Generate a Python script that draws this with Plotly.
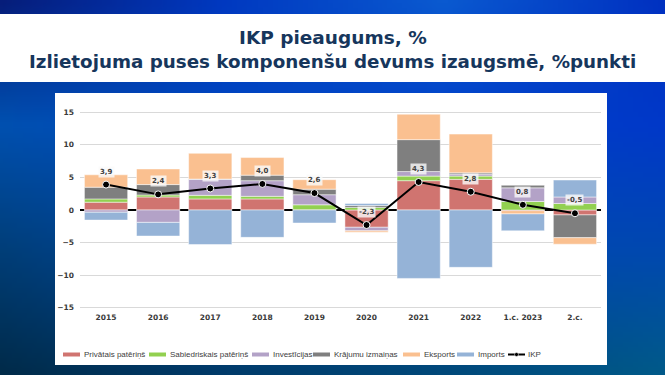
import base64, struct, zlib
import plotly.graph_objects as go

# ---------------- data ----------------
categories = ["2015", "2016", "2017", "2018", "2019", "2020", "2021", "2022", "1.c. 2023", "2.c."]
privatais = [1.2, 2.0, 1.7, 1.7, 0.05, -2.65, 4.5, 4.7, -0.1, -0.75]
sabiedriskais = [0.5, 0.3, 0.55, 0.4, 0.75, 0.4, 0.7, 0.5, 1.3, 1.0]
investicijas = [-0.35, -1.9, 2.45, 2.4, 1.55, -0.55, 0.7, 0.3, 2.1, 1.0]
krajumi = [1.8, 1.6, 0.05, 0.85, 0.85, 0.3, 4.9, 0.2, 0.4, -3.5]
eksports = [1.9, 2.4, 3.95, 2.7, 1.45, -0.2, 3.9, 5.95, -0.5, -1.0]
imports = [-1.2, -2.1, -5.3, -4.2, -2.0, 0.3, -10.5, -8.8, -2.6, 2.6]
ikp = [3.9, 2.4, 3.3, 4.0, 2.6, -2.3, 4.3, 2.8, 0.8, -0.5]
ikp_labels = ["3,9", "2,4", "3,3", "4,0", "2,6", "-2,3", "4,3", "2,8", "0,8", "-0,5"]

series_names = ["Privātais patēriņš", "Sabiedriskais patēriņš", "Investīcijas",
                "Krājumu izmaiņas", "Eksports", "Imports"]
series_values = [privatais, sabiedriskais, investicijas, krajumi, eksports, imports]
series_colors = ["#d07470", "#92d050", "#b3a2c7", "#7f7f7f", "#fac090", "#95b3d7"]
y_ticks = [-15, -10, -5, 0, 5, 10, 15]

title_line1 = "IKP pieaugums, %"
title_line2 = "Izlietojuma puses komponenšu devums izaugsmē, %punkti"

xpos = list(range(len(categories)))

# ---------------- geometry helpers ----------------
W, H = 665, 375
L, R, T, B = 80, 601, 109, 311
PW, PH = R - L, B - T


def px2x(x):
    return (x - L) / PW


def px2y(y):
    return (B - y) / PH


# ---------------- gradient background image ----------------
GRID = [
    ["#061c78", "#0038c0", "#0a5ad0", "#0030c0"],
    ["#0050b0", "#0048c0", "#0040c8", "#0038c8"],
    ["#003e78", "#0045a0", "#0048b0", "#0048b0"],
    ["#002a48", "#003a68", "#004878", "#005a88"],
]


def h2rgb(h):
    h = h.lstrip("#")
    return [int(h[i:i + 2], 16) for i in (0, 2, 4)]


GRIDRGB = [[h2rgb(c) for c in row] for row in GRID]


def sample(fx, fy):
    gx, gy = fx * 3, fy * 3
    i, j = min(int(gx), 2), min(int(gy), 2)
    tx, ty = gx - i, gy - j
    out = []
    for k in range(3):
        a = GRIDRGB[j][i][k] * (1 - tx) + GRIDRGB[j][i + 1][k] * tx
        b = GRIDRGB[j + 1][i][k] * (1 - tx) + GRIDRGB[j + 1][i + 1][k] * tx
        out.append(int(round(a * (1 - ty) + b * ty)))
    return out


def make_png(w, h):
    raw = bytearray()
    for y in range(h):
        raw.append(0)
        for x in range(w):
            raw.extend(sample((x + 0.5) / w, (y + 0.5) / h))

    def chunk(tag, data):
        c = struct.pack(">I", len(data)) + tag + data
        return c + struct.pack(">I", zlib.crc32(tag + data) & 0xFFFFFFFF)

    png = b"\x89PNG\r\n\x1a\n"
    png += chunk(b"IHDR", struct.pack(">IIBBBBB", w, h, 8, 2, 0, 0, 0))
    png += chunk(b"IDAT", zlib.compress(bytes(raw), 9))
    png += chunk(b"IEND", b"")
    return "data:image/png;base64," + base64.b64encode(png).decode()


bg_uri = make_png(133, 75)

# ---------------- figure ----------------
fig = go.Figure()

for name, vals, col in zip(series_names, series_values, series_colors):
    fig.add_trace(go.Bar(
        x=xpos, y=vals, name=name,
        marker=dict(color=col, line=dict(color="rgba(255,255,255,0.8)", width=0.6)),
        showlegend=False,
    ))

fig.add_trace(go.Scatter(
    x=xpos, y=ikp, name="IKP", mode="lines+markers",
    line=dict(color="black", width=2),
    marker=dict(color="black", size=7, line=dict(color="white", width=1)),
    showlegend=False,
))

annotations = []
for xi, v, t in zip(xpos, ikp, ikp_labels):
    annotations.append(dict(
        x=xi, y=v, xref="x", yref="y", text="<b>%s</b>" % t, showarrow=False, yshift=13,
        font=dict(family="DejaVu Sans", size=7, color="#404040"),
        bgcolor="rgba(250,250,250,0.8)", borderpad=1,
    ))

# title
annotations.append(dict(xref="paper", yref="paper", x=px2x(W / 2), y=px2y(38),
                        text="<b>%s</b>" % title_line1, showarrow=False,
                        font=dict(family="DejaVu Sans", size=18.5, color="#16365c"),
                        xanchor="center", yanchor="middle"))
annotations.append(dict(xref="paper", yref="paper", x=px2x(W / 2), y=px2y(61),
                        text="<b>%s</b>" % title_line2, showarrow=False,
                        font=dict(family="DejaVu Sans", size=18.3, color="#16365c"),
                        xanchor="center", yanchor="middle"))

shapes = [
    # title band
    dict(type="rect", xref="paper", yref="paper", x0=px2x(0), x1=px2x(W),
         y0=px2y(14), y1=px2y(82), fillcolor="white", line=dict(width=0), layer="below"),
    # chart panel
    dict(type="rect", xref="paper", yref="paper", x0=px2x(55), x1=px2x(607),
         y0=px2y(93), y1=px2y(365), fillcolor="white", line=dict(width=0), layer="below"),
]

# custom legend (single row as in the reference)
legend_swatch_x = [63, 149, 252, 313, 403, 457]
legend_y = 354.5
sw = 17
for sx, name, col in zip(legend_swatch_x, series_names, series_colors):
    shapes.append(dict(type="rect", xref="paper", yref="paper",
                       x0=px2x(sx), x1=px2x(sx + sw), y0=px2y(legend_y - 2), y1=px2y(legend_y + 2),
                       fillcolor=col, line=dict(width=0)))
    annotations.append(dict(xref="paper", yref="paper", x=px2x(sx + sw + 1.5), y=px2y(legend_y),
                            text=name, showarrow=False, xanchor="left", yanchor="middle",
                            font=dict(family="Liberation Sans", size=8, color="#404040")))
ikp_sx = 508
shapes.append(dict(type="line", xref="paper", yref="paper",
                   x0=px2x(ikp_sx), x1=px2x(ikp_sx + sw), y0=px2y(legend_y), y1=px2y(legend_y),
                   line=dict(color="black", width=2)))
shapes.append(dict(type="circle", xref="paper", yref="paper",
                   x0=px2x(ikp_sx + 6.5), x1=px2x(ikp_sx + 10.5),
                   y0=px2y(legend_y - 2), y1=px2y(legend_y + 2),
                   fillcolor="black", line=dict(color="white", width=0.5)))
annotations.append(dict(xref="paper", yref="paper", x=px2x(ikp_sx + sw + 0.5), y=px2y(legend_y),
                        text="IKP", showarrow=False, xanchor="left", yanchor="middle",
                        font=dict(family="Liberation Sans", size=8, color="#404040")))

fig.update_layout(
    width=W, height=H,
    margin=dict(l=L, r=W - R, t=T, b=H - B, pad=0),
    barmode="relative", bargap=0.17,
    paper_bgcolor="#0045b0", plot_bgcolor="rgba(0,0,0,0)",
    showlegend=False,
    shapes=shapes, annotations=annotations,
    images=[dict(source=bg_uri, xref="paper", yref="paper",
                 x=px2x(0), y=px2y(0), sizex=W / PW, sizey=H / PH,
                 xanchor="left", yanchor="top", sizing="stretch", layer="below")],
    xaxis=dict(type="linear", range=[-0.5, len(categories) - 0.5],
               tickvals=xpos, ticktext=categories,
               showgrid=False, showline=False, ticks="", zeroline=False,
               tickfont=dict(family="DejaVu Sans", size=7.5, color="#3a3a3a", weight="bold")),
    yaxis=dict(range=[-15.5, 15.5], tickvals=y_ticks, ticks="",
               showgrid=True, gridcolor="#d9d9d9", gridwidth=1,
               zeroline=True, zerolinecolor="black", zerolinewidth=1.5,
               showline=False, ticklabelstandoff=5,
               tickfont=dict(family="DejaVu Sans", size=7.5, color="#3a3a3a", weight="bold")),
)

fig.write_html("out.html", config={"displayModeBar": False},
               post_script="document.body.style.margin='0';document.body.style.padding='0';")
